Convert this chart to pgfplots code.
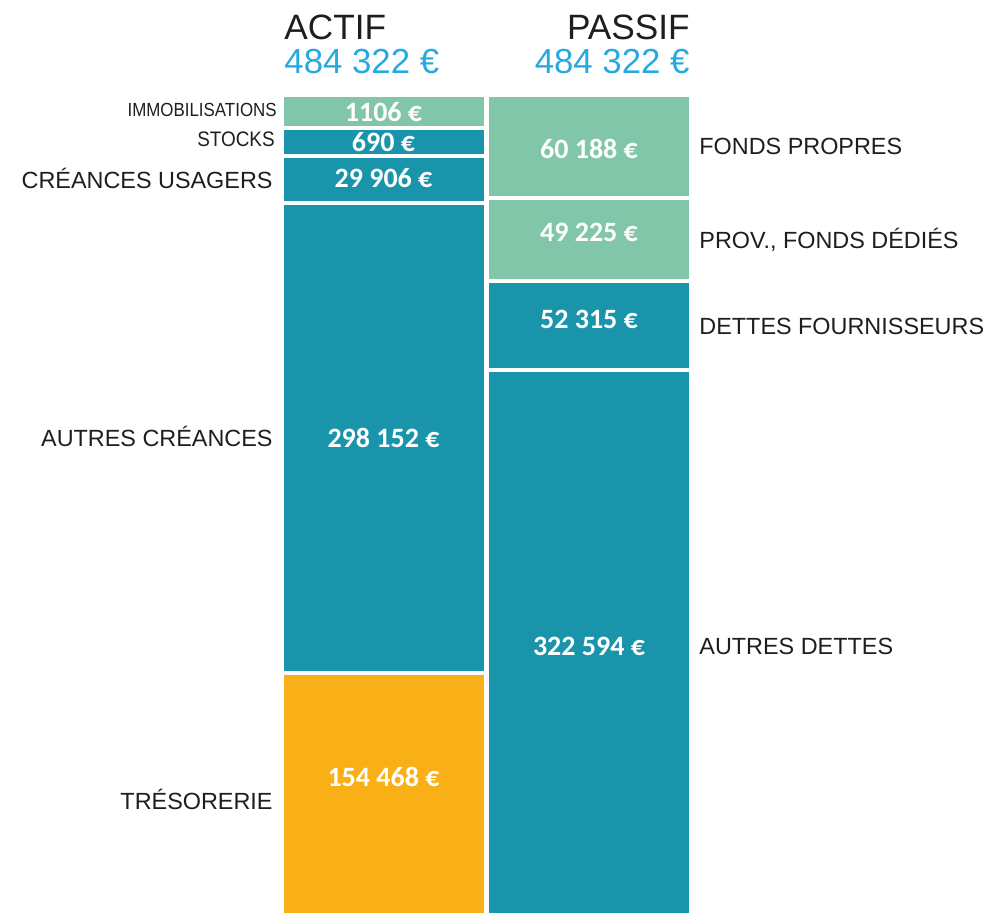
\documentclass[border=0pt]{standalone}
\usepackage{fontspec}
\setmainfont{Liberation Sans}
\newfontfamily\valfont{Carlito}
\usepackage{pgfplots}
\pgfplotsset{compat=1.18}

\definecolor{cteal}{RGB}{25,148,170}
\definecolor{cgreen}{RGB}{130,198,170}
\definecolor{corange}{RGB}{249,176,22}
\definecolor{cblue}{RGB}{38,169,224}
\definecolor{ctext}{RGB}{30,30,30}

\tikzset{
  cat/.style={font=\fontsize{11.7}{14}\selectfont, text=ctext, inner sep=0pt},
  val/.style={font=\valfont\bfseries\fontsize{14}{16}\selectfont,
    text=white, anchor=center, inner sep=0pt},
}
% x in pixels of the original (0..991), y in euros; 820 px of bar = 484 322 EUR
% stacked labels sit at the middle of each segment; yshift only nudges them
% ymin a little above 0 so the bars run off the bottom edge as in the original
\pgfplotsset{
  bilan/.style={
    scale only axis, width=495.5pt, height=457.5pt,
    xmin=0, xmax=991, ymin=1800, ymax=540433,
    axis line style={draw=none}, ticks=none,
    ybar stacked, bar width=204,
    point meta=explicit symbolic,
    nodes near coords,
    every node near coord/.style={val},
    every axis plot/.append style={draw=white, line width=2pt},
  },
}

\begin{document}
\begin{tikzpicture}
% ACTIF (heights as drawn; the small items are drawn larger than their value)
\begin{axis}[bilan]
\addplot[fill=corange, every node near coord/.style={val, yshift=9.5pt}]
  coordinates {(383.5,144115) [154 468 €]};
\addplot[fill=cteal] coordinates {(383.5,276713) [298 152 €]};
\addplot[fill=cteal, every node near coord/.style={val, yshift=0.5pt}]
  coordinates {(383.5,28055) [29 906 €]};
\addplot[fill=cteal] coordinates {(383.5,16243) [690 €]};
\addplot[fill=cgreen] coordinates {(383.5,19196) [1106 €]};

\node[anchor=base west, inner sep=0pt, text=ctext, font=\fontsize{17.6}{20}\selectfont]
  at (axis cs:284,517398) {ACTIF};
\node[anchor=base west, inner sep=0pt, text=cblue, font=\fontsize{17.4}{20}\selectfont]
  at (axis cs:284,497316) {484 322 €};
\node[anchor=base east, inner sep=0pt, text=ctext, font=\fontsize{17.6}{20}\selectfont]
  at (axis cs:690,517398) {PASSIF};
\node[anchor=base east, inner sep=0pt, text=cblue, font=\fontsize{17.4}{20}\selectfont]
  at (axis cs:690,497316) {484 322 €};

\node[cat, anchor=east, font=\fontsize{9.5}{11}\selectfont, xscale=0.89]
  at (axis cs:277,475463) {IMMOBILISATIONS};
\node[cat, anchor=east, font=\fontsize{10.5}{12}\selectfont, xscale=0.9]
  at (axis cs:275,458334) {STOCKS};
\node[cat, anchor=east] at (axis cs:273,435600) {CRÉANCES USAGERS};
\node[cat, anchor=east] at (axis cs:273,283500) {AUTRES CRÉANCES};
\node[cat, anchor=east] at (axis cs:273,69695) {TRÉSORERIE};

\node[cat, anchor=west] at (axis cs:699,454200) {FONDS PROPRES};
\node[cat, anchor=west] at (axis cs:699,399271) {PROV., FONDS DÉDIÉS};
\node[cat, anchor=west] at (axis cs:699,348476) {DETTES FOURNISSEURS};
\node[cat, anchor=west] at (axis cs:699,160063) {AUTRES DETTES};
\end{axis}

% PASSIF
\begin{axis}[bilan]
\addplot[fill=cteal, every node near coord/.style={val, yshift=-1pt}]
  coordinates {(589,322594) [322 594 €]};
\addplot[fill=cteal, every node near coord/.style={val, yshift=3.25pt}]
  coordinates {(589,52315) [52 315 €]};
\addplot[fill=cgreen, every node near coord/.style={val, yshift=3.25pt}]
  coordinates {(589,49225) [49 225 €]};
\addplot[fill=cgreen, every node near coord/.style={val, yshift=-1.5pt}]
  coordinates {(589,60188) [60 188 €]};
\end{axis}
\end{tikzpicture}
\end{document}
